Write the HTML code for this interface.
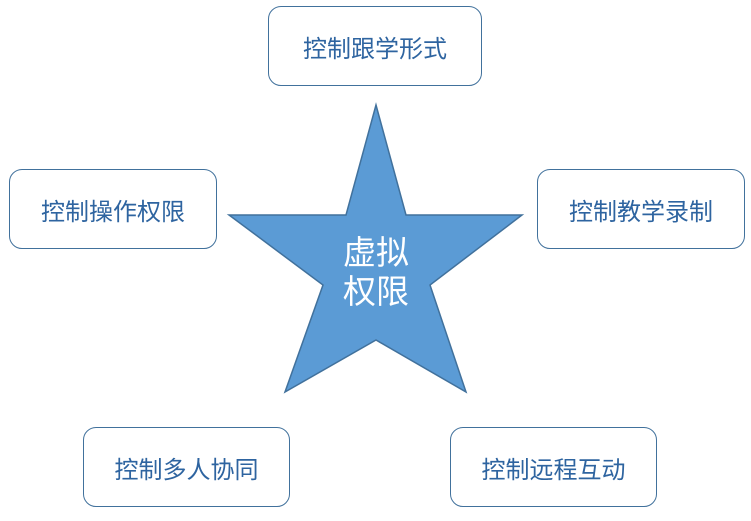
<!DOCTYPE html>
<html><head><meta charset="utf-8"><style>
body{margin:0;width:751px;height:521px;background:#fff;position:relative;overflow:hidden;font-family:"Liberation Sans","Noto Sans CJK SC",sans-serif}
.b{position:absolute;box-sizing:border-box;border:1.5px solid #41719c;border-radius:13px;background:#fff;display:flex;align-items:center;justify-content:center;color:#2e64a0;font-size:24px}
</style></head><body>
<div class="b" style="left:268px;top:6px;width:214px;height:80px">控制跟学形式</div>
<div class="b" style="left:9px;top:169px;width:208px;height:80px">控制操作权限</div>
<div class="b" style="left:537px;top:169px;width:208px;height:80px">控制教学录制</div>
<div class="b" style="left:83px;top:427px;width:207px;height:80px">控制多人协同</div>
<div class="b" style="left:450px;top:427px;width:207px;height:80px">控制远程互动</div>
<svg width="751" height="521" style="position:absolute;left:0;top:0">
<polygon points="376,105 346,215 229,215 323,285 285,392 376,340 466,392 430,285 522,215 406,215" fill="#5b9bd5" stroke="#41719c" stroke-width="1.5"/>
<text x="376" y="264" text-anchor="middle" fill="#fff" font-size="33" font-family="Liberation Sans,Noto Sans CJK SC,sans-serif">虚拟</text>
<text x="376" y="303" text-anchor="middle" fill="#fff" font-size="33" font-family="Liberation Sans,Noto Sans CJK SC,sans-serif">权限</text>
</svg>
</body></html>
